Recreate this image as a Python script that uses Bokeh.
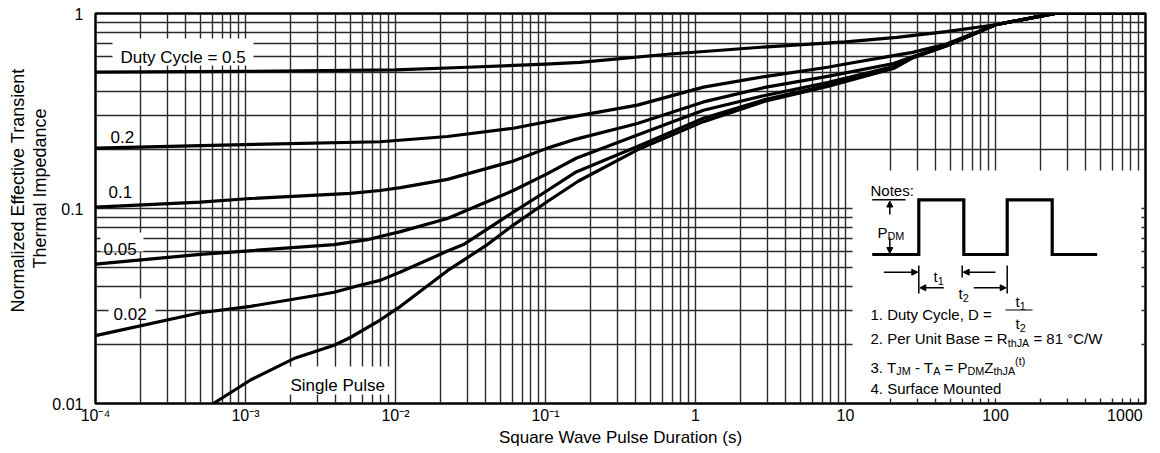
from bokeh.plotting import figure
from bokeh.models import FixedTicker, CustomJSTickFormatter, Label, Arrow, NormalHead, Title
from bokeh.embed import file_html
from bokeh.resources import INLINE

# ---------------- data ----------------
tail_t = [100, 200, 250, 1000]
tail_z = [0.876, 0.97, 1.0, 1.0]

d05_t = [1e-4, 1e-3, 1e-2, 3e-2, 0.1, 0.17, 0.68, 3.0, 10, 22, 47] + tail_t
d05_z = [0.500, 0.505, 0.514, 0.53, 0.55, 0.562, 0.62, 0.675, 0.715, 0.755, 0.808] + tail_z

d02_t = [1e-4, 8.3e-4, 7.9e-3, 0.0222, 0.061, 0.15, 0.41, 1.13, 2.9, 7.6, 10, 20.9, 28, 47] + tail_t
d02_z = [0.204, 0.212, 0.220, 0.234, 0.258, 0.295, 0.339, 0.419, 0.475, 0.530, 0.551, 0.608, 0.632, 0.697] + tail_z

d01_t = [1e-4, 5e-4, 1.08e-3, 5e-3, 7.9e-3, 0.0108, 0.0222, 0.061, 0.103, 0.16, 0.41, 1.13, 2.9, 7.6, 20.9, 28, 47] + tail_t
d01_z = [0.1017, 0.1077, 0.1125, 0.1196, 0.1237, 0.128, 0.141, 0.175, 0.204, 0.227, 0.273, 0.352, 0.418, 0.476, 0.554, 0.60, 0.686] + tail_z

d005_t = [1e-4, 5e-4, 3.9e-3, 6.5e-3, 7.9e-3, 0.0108, 0.0222, 0.061, 0.103, 0.16, 0.41, 1.13, 2.9, 7.6, 20.9, 28, 47] + tail_t
d005_z = [0.0519, 0.0582, 0.0653, 0.0692, 0.0719, 0.0761, 0.0888, 0.1237, 0.151, 0.181, 0.238, 0.319, 0.38, 0.443, 0.535, 0.596, 0.684] + tail_z

d002_t = [1e-4, 5e-4, 1.08e-3, 3.0e-3, 3.9e-3, 5.8e-3, 7.9e-3, 0.0108, 0.0222, 0.0284, 0.061, 0.103, 0.16, 0.41, 1.13, 2.9, 7.6, 20.9, 28, 47] + tail_t
d002_z = [0.0223, 0.0292, 0.0315, 0.0359, 0.0372, 0.0404, 0.0428, 0.0472, 0.0605, 0.0653, 0.0958, 0.1237, 0.154, 0.208, 0.290, 0.362, 0.428, 0.528, 0.594, 0.683] + tail_z

single_t = [6.1e-4, 1.08e-3, 2.1e-3, 3.9e-3, 5e-3, 7.9e-3, 0.0108, 0.0222, 0.041, 0.061, 0.103, 0.165, 0.41, 1.13, 2.9, 7.6, 20.9, 28, 47] + tail_t
single_z = [0.0100, 0.0132, 0.0170, 0.0199, 0.0218, 0.0268, 0.0315, 0.048, 0.0653, 0.0822, 0.1086, 0.138, 0.200, 0.279, 0.355, 0.423, 0.522, 0.592, 0.682] + tail_z

series_t = [d05_t, d02_t, d01_t, d005_t, d002_t, single_t]
series_z = [d05_z, d02_z, d01_z, d005_z, d002_z, single_z]

x_tick_values = [1e-4, 1e-3, 1e-2, 1e-1, 1, 10, 100, 1000]
x_tick_labels = ["10\u207b\u2074", "10\u207b\u00b3", "10\u207b\u00b2", "10\u207b\u00b9", "1", "10", "100", "1000"]
y_tick_values = [0.01, 0.1, 1]
y_tick_labels = ["0.01", "0.1", "1"]

x_title = "Square Wave Pulse Duration (s)"
y_title_lines = ["Normalized Effective Transient", "Thermal Impedance"]

FONT = "Liberation Sans"
FIG_SP = "\u2007"  # figure space, used only to nudge the last tick label inward

# ---------------- layout ----------------
W, H = 1160, 453
FL, FR, FT, FB = 95, 1145, 13, 403  # frame edges in px


def T(px):
    return 10 ** ((px - FL) / (FR - FL) * 7 - 4)


def Z(py):
    return 10 ** (-(py - FT) / (FB - FT) * 2)


p = figure(width=W, height=H, x_axis_type="log", y_axis_type="log",
           x_range=(1e-4, 1000), y_range=(0.01, 1),
           output_backend="svg", toolbar_location=None,
           min_border_left=FL, min_border_right=W - FR,
           min_border_top=FT, min_border_bottom=H - FB)
p.background_fill_color = "white"
p.border_fill_color = "white"
p.outline_line_color = "black"
p.outline_line_width = 2.5

x_minor = [k * 10.0 ** e for e in range(-4, 3) for k in range(2, 10)]
y_minor = [k * 10.0 ** e for e in range(-2, 0) for k in range(2, 10)]
p.xaxis.ticker = FixedTicker(ticks=x_tick_values, minor_ticks=x_minor)
p.yaxis.ticker = FixedTicker(ticks=y_tick_values, minor_ticks=y_minor)

axis_x_labels = x_tick_labels[:-1] + [x_tick_labels[-1] + FIG_SP * 2]
p.xaxis.formatter = CustomJSTickFormatter(args=dict(labels=axis_x_labels),
                                          code="const k = Math.round(Math.log10(tick)); return labels[k + 4];")
p.yaxis.formatter = CustomJSTickFormatter(args=dict(labels=y_tick_labels),
                                          code="const k = Math.round(Math.log10(tick)); return labels[k + 2];")

for ax in (p.xaxis[0], p.yaxis[0]):
    ax.axis_line_color = None
    ax.major_tick_line_color = None
    ax.minor_tick_line_color = None
    ax.major_tick_out = 0
    ax.minor_tick_out = 0
    ax.major_tick_in = 0
    ax.minor_tick_in = 0
    ax.major_label_text_font = FONT
    ax.major_label_text_font_size = "16px"
    ax.major_label_text_color = "black"
    ax.axis_label_text_font = FONT
    ax.axis_label_text_font_size = "17px"
    ax.axis_label_text_font_style = "normal"
    ax.axis_label_text_color = "black"

p.xaxis.axis_label = x_title
p.xaxis.major_label_standoff = 3
p.xaxis.axis_label_standoff = 1
p.yaxis.major_label_standoff = 12

# two-line y title as side titles (inner line first); the upper end of each line is
# placed at a given distance from the frame top so both lines centre near y = 190
title_top_offsets = {"Thermal Impedance": 95, "Normalized Effective Transient": 55}
for line in reversed(y_title_lines):
    p.add_layout(Title(text=line, align="right", offset=title_top_offsets[line], standoff=0,
                       text_font=FONT, text_font_size="18px", text_font_style="normal",
                       text_color="black"), "left")

for g in (p.xgrid[0], p.ygrid[0]):
    g.grid_line_color = "#2b2b2b"
    g.grid_line_width = 1.4
    g.minor_grid_line_color = "#2b2b2b"
    g.minor_grid_line_width = 1.4


# ---------------- white boxes behind labels ----------------
def box(l, r, t, b):
    p.quad(left=T(l), right=T(r), top=Z(t), bottom=Z(b), fill_color="white", line_color=None)


box(112, 253, 38, 65)       # Duty Cycle = 0.5
box(100, 143, 232, 251)     # 0.05
box(108, 155, 298, 318)     # 0.02
box(284, 393, 366, 394)     # Single Pulse
box(852, 1141, 170, 398)    # notes

# ---------------- curves ----------------
for ts, zs in zip(series_t, series_z):
    p.line(ts, zs, line_color="black", line_width=3.2, line_join="round")


# ---------------- text helpers ----------------
AFM = {' ': 278, '(': 333, ')': 333, ',': 278, '-': 333, '.': 278, '/': 278, ':': 278, '=': 584,
       '\u00b0': 400, 'A': 667, 'B': 667, 'C': 722, 'D': 722, 'J': 500, 'M': 833, 'N': 722, 'P': 667,
       'R': 722, 'S': 667, 'T': 611, 'U': 722, 'W': 944, 'Z': 611, 'a': 556, 'c': 500, 'd': 556,
       'e': 556, 'f': 278, 'h': 556, 'i': 222, 'l': 222, 'n': 556, 'o': 556, 'r': 333, 's': 500,
       't': 278, 'u': 556, 'y': 500}


def tw(s, fs):
    return sum(AFM.get(c, 556) for c in s) * fs / 1000.0


def lab(x, y, text, size=15, align="left", baseline="alphabetic"):
    p.add_layout(Label(x=T(x), y=Z(y), text=text, text_font=FONT, text_font_size=f"{size}px",
                       text_color="black", text_align=align, text_baseline=baseline))


def rich(x0, base, segs, size=15):
    x = x0
    for txt, kind in segs:
        fs = size if kind == "n" else size * 0.72
        dy = 0 if kind == "n" else (4 if kind == "sub" else -6)
        lead = len(txt) - len(txt.lstrip(" "))
        trail = len(txt) - len(txt.rstrip(" "))
        x += tw(" " * lead, fs)
        core = txt.strip(" ")
        lab(x, base + dy, core, size=round(fs, 1))
        x += tw(core, fs) + tw(" " * trail, fs)


# curve labels
lab(120, 57.3, "Duty Cycle = 0.5", size=17)
lab(110, 136.7, "0.2", size=17)
lab(108, 191.7, "0.1", size=17)
lab(103, 248.3, "0.05", size=17)
lab(113, 313.3, "0.02", size=17)
lab(290, 385, "Single Pulse", size=17)

# ---------------- notes ----------------
lab(870, 190, "Notes:")
wave_px_x = [871.7, 918.3, 918.3, 963.3, 963.3, 1006.7, 1006.7, 1051.7, 1051.7, 1096.7]
wave_px_y = [254, 254, 199.3, 199.3, 254, 254, 199.3, 199.3, 254, 254]
p.line([T(v) for v in wave_px_x], [Z(v) for v in wave_px_y], line_color="black", line_width=3.2,
       line_join="miter")
p.line([T(871.7), T(905)], [Z(199.3), Z(199.3)], line_color="black", line_width=1.5)


def arrow(x0, y0, x1, y1):
    p.add_layout(Arrow(x_start=T(x0), y_start=Z(y0), x_end=T(x1), y_end=Z(y1),
                       line_color="black", line_width=1.5,
                       end=NormalHead(size=6, fill_color="black", line_color="black", line_width=1)))


arrow(889.3, 214, 889.3, 200.5)
arrow(889.3, 237, 889.3, 253)
rich(877, 231.7, [("P", "n"), ("DM", "sub")])

# t1 / t2 markers
for xv, y0, y1 in [(918.3, 265, 293), (961.7, 265, 277), (1006.7, 265, 293)]:
    p.line([T(xv), T(xv)], [Z(y0), Z(y1)], line_color="black", line_width=1.5)
arrow(883.3, 271.7, 917.3, 271.7)
arrow(995, 271.7, 962.7, 271.7)
arrow(943.3, 287.3, 919.3, 287.3)
arrow(973.3, 287.3, 1005.7, 287.3)
rich(933, 276, [("t", "n"), ("1", "sub")])
rich(958, 293, [("t", "n"), ("2", "sub")])

rich(870, 314, [("1. Duty Cycle, D =", "n")])
rich(1015, 301, [("t", "n"), ("1", "sub")])
p.line([T(1005), T(1032)], [Z(309.5), Z(309.5)], line_color="black", line_width=1.2)
rich(1015, 323, [("t", "n"), ("2", "sub")])
rich(870, 338.3, [("2. Per Unit Base = R", "n"), ("thJA", "sub"), (" = 81 \u00b0C/W", "n")])
rich(870, 366.7, [("3. T", "n"), ("JM", "sub"), (" - T", "n"), ("A", "sub"), (" = P", "n"),
                  ("DM", "sub"), ("Z", "n"), ("thJA", "sub"), ("(t)", "sup")])
rich(870, 388.3, [("4. Surface Mounted", "n")])

open("out.html", "w").write(file_html(p, INLINE))
